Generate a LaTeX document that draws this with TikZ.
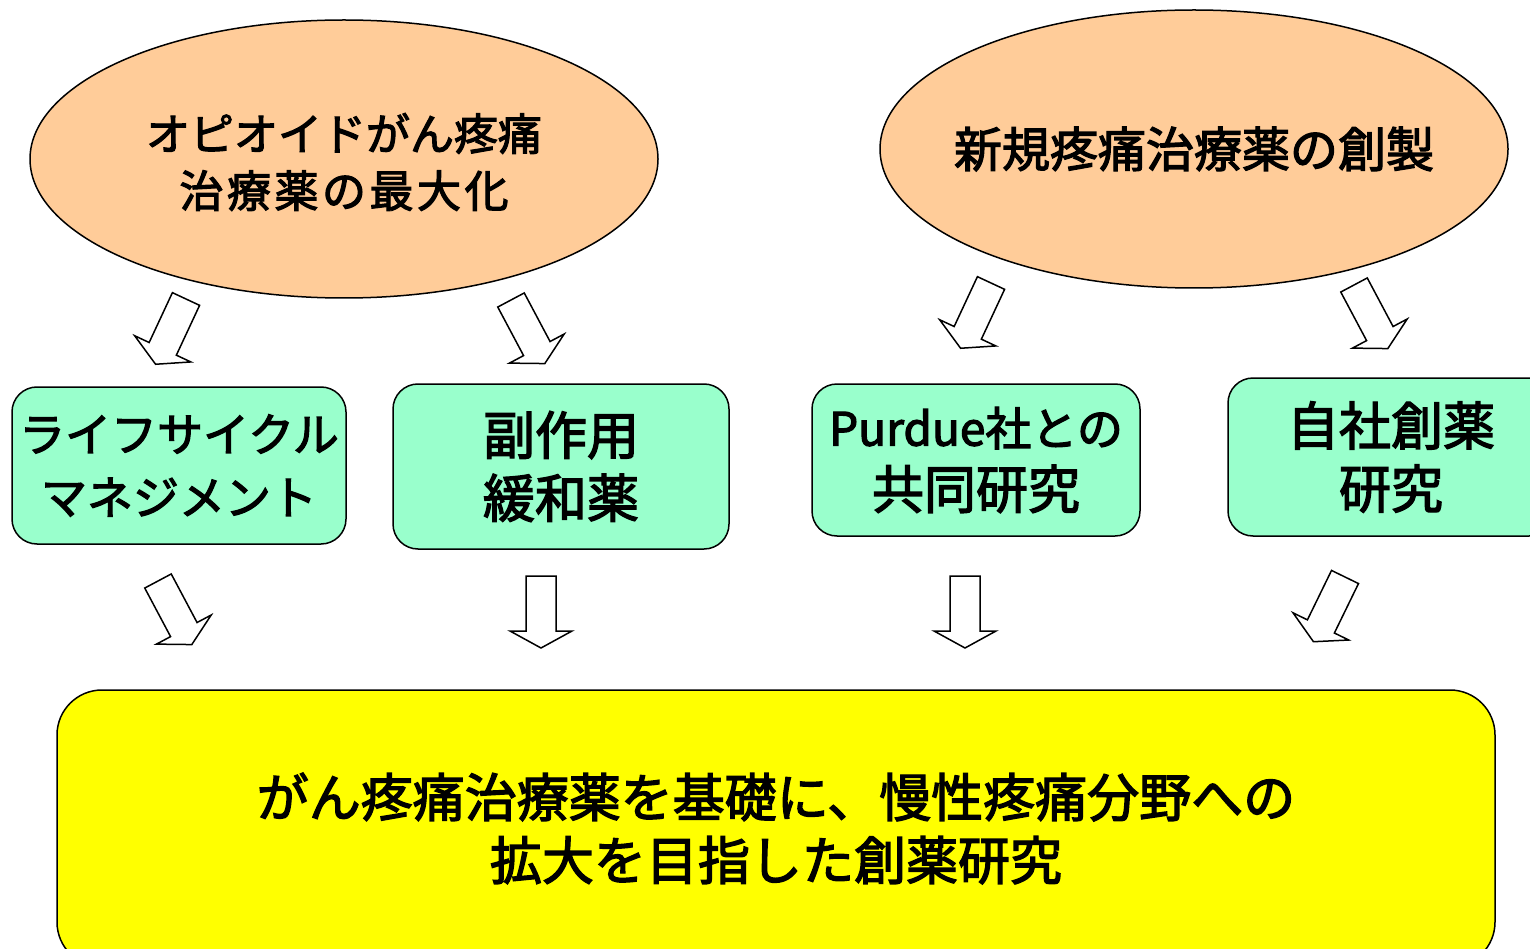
\documentclass[tikz,border=0pt]{standalone}
\usepackage{fontspec}
\setmainfont{Noto Sans CJK JP}[BoldFont={Noto Sans CJK JP}, BoldFeatures={FakeBold=2.6}]
\usetikzlibrary{shapes.geometric}
\definecolor{peach}{HTML}{FFCC99}
\definecolor{mint}{HTML}{99FFCC}
\definecolor{lemon}{HTML}{FFFF00}

\begin{document}
\begin{tikzpicture}[x=1pt,y=-1pt,
	pain/.style={ellipse,draw=black,fill=peach,line width=1.5pt,minimum width=628pt,minimum height=278pt,inner sep=0pt},
	plan/.style={rectangle,rounded corners=25pt,draw=black,fill=mint,line width=1.5pt,inner sep=0pt,align=center},
	hollow/.style={draw=black,fill=white,line width=1.5pt,line join=miter}]
	\useasboundingbox (0,0) rectangle (1530,949);
	\clip (0,0) rectangle (1530,949);
	\node[pain] (opioid) at (344,159) {};
	\node[align=center,font=\fontsize{44}{57}\selectfont\bfseries] (opioid text) at (344,162) {オピオイドがん疼痛\\{\addfontfeature{LetterSpace=8}治療薬の最大化}};
	\node[pain] (novel) at (1194,149) {};
	\node[font=\fontsize{48}{60}\selectfont\bfseries] (novel text) at (novel) {新規疼痛治療薬の創製};
	\node[plan,minimum width=334pt,minimum height=157pt,font=\fontsize{46}{63}\selectfont\bfseries] (lcm) at (179,465.5) {ライフサイクル\\マネジメント};
	\node[plan,minimum width=336pt,minimum height=165pt,font=\fontsize{52}{63}\selectfont\bfseries] (sidefx) at (561,466.5) {副作用\\緩和薬};
	\node[plan,minimum width=328pt,minimum height=152pt,font=\fontsize{52}{63}\selectfont\bfseries] (purdue) at (976,460) {{\fontsize{46}{63}\selectfont Purdue社との}\\共同研究};
	\node[plan,minimum width=326pt,minimum height=158pt,font=\fontsize{52}{63}\selectfont\bfseries] (inhouse) at (1391,457) {自社創薬\\研究};
	\node[plan,fill=lemon,rounded corners=45pt,minimum width=1438pt,minimum height=277pt,font=\fontsize{52}{63}\selectfont\bfseries] (goal) at (776,828.5) {がん疼痛治療薬を基礎に、慢性疼痛分野への\\拡大を目指した創薬研究};
	\foreach \px/\py/\ang in {186/299/-115, 511/300/-62, 991/283/-115, 1354/285/-62, 158/581/-62, 541/576/-90, 965/576/-90, 1345/577/-116}
		\draw[hollow,shift={(\px,\py)},rotate=\ang] (0,-15) -- (55,-15) -- (55,-31) -- (72,0) -- (55,31) -- (55,15) -- (0,15) -- cycle;
\end{tikzpicture}
\end{document}
